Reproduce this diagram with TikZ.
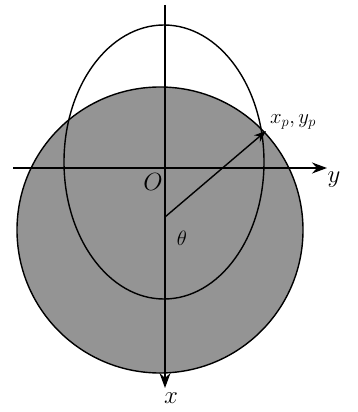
\documentclass[tikz,border=0pt]{standalone}
\usepackage{amsmath,amssymb}
\usetikzlibrary{arrows.meta}

\begin{document}
\begin{tikzpicture}[x=1pt,y=-1pt,line width=1.4pt,
		axis/.style={-{Stealth[length=15pt,width=11pt]}},
		lbl/.style={inner sep=0pt,font=\fontsize{26}{28}\selectfont}]
			\useasboundingbox (0,0) rectangle (357,412);
			% shaded disc
			\fill[black!42] (160,230) circle (143);
			\draw (160,230) circle (143);
			% ellipse
			\draw (164,162) ellipse (100 and 137);
			% axes
			\coordinate (ytail) at (13,168);
			\coordinate (yhead) at (327,168);
			\coordinate (xtail) at (165,5);
			\coordinate (xhead) at (165,388);
			\draw[axis] (ytail) -- (yhead);
			\draw[axis] (xtail) -- (xhead);
			\node[lbl] (ylab) at (334,180) {$y$};
			\node[lbl] (xlab) at (171,398) {$x$};
			\node[lbl] (O) at (153,182) {$O$};
			% radius vector
			\coordinate (C) at (165,217);
			\coordinate (P) at (266,131);
			\draw[-{Stealth[length=12pt,width=9pt]}] (C) -- (P);
			\node[lbl,font=\fontsize{21}{23}\selectfont] (Plab) at (293,122) {$x_p,y_p$};
			\node[lbl,font=\fontsize{20}{22}\selectfont] (theta) at (182,238) {$\theta$};
		\end{tikzpicture}
\end{document}
